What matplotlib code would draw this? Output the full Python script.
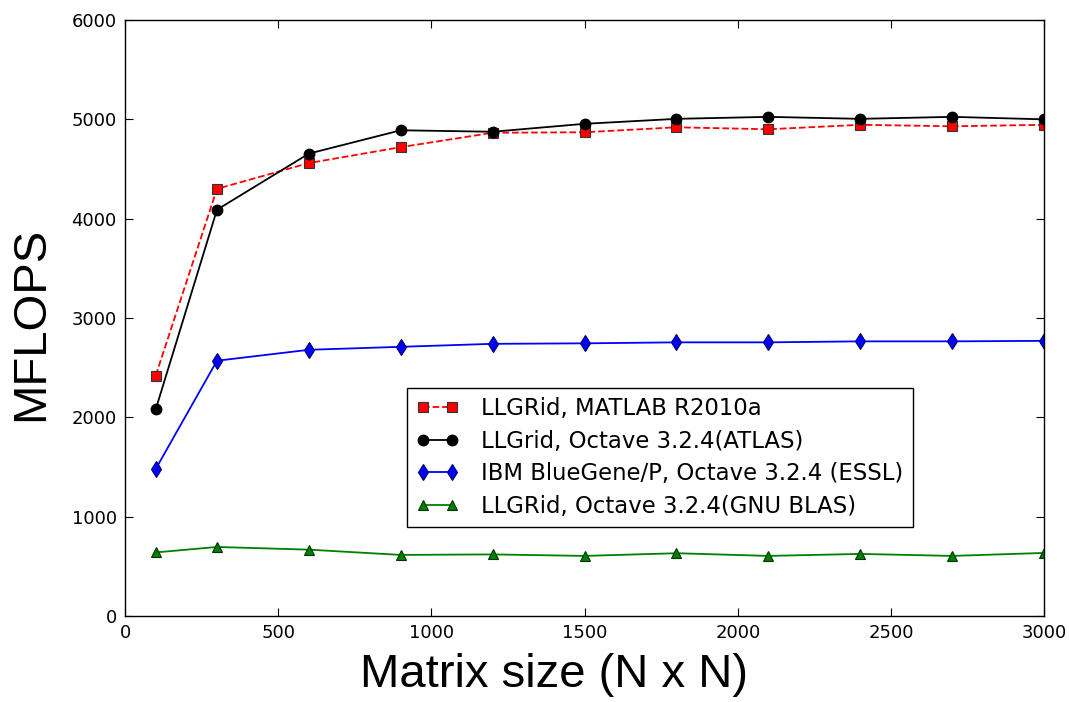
import matplotlib
matplotlib.use("Agg")
import matplotlib.pyplot as plt

# Matrix sizes (N for an N x N matrix)
matrix_size = [100, 300, 600, 900, 1200, 1500, 1800, 2100, 2400, 2700, 3000]

# Measured MFLOPS for each configuration
matlab_llgrid = [2420, 4300, 4560, 4720, 4865, 4870, 4920, 4900, 4945, 4930, 4945]
octave_atlas = [2080, 4090, 4655, 4890, 4875, 4955, 5005, 5025, 5005, 5025, 5000]
bluegene_essl = [1480, 2570, 2680, 2710, 2740, 2745, 2755, 2755, 2765, 2765, 2770]
octave_gnublas = [640, 695, 668, 615, 620, 605, 632, 605, 625, 605, 635]

labels = [
    "LLGRid, MATLAB R2010a",
    "LLGrid, Octave 3.2.4(ATLAS)",
    "IBM BlueGene/P, Octave 3.2.4 (ESSL)",
    "LLGRid, Octave 3.2.4(GNU BLAS)",
]

x_ticks = [0, 500, 1000, 1500, 2000, 2500, 3000]
y_ticks = [0, 1000, 2000, 3000, 4000, 5000, 6000]

plt.rcParams["font.family"] = "DejaVu Sans"

fig = plt.figure(figsize=(10.69, 7.02), dpi=100, facecolor="white")
ax = fig.add_axes([0.117, 0.1225, 0.8597, 0.849])

ax.plot(matrix_size, matlab_llgrid, color="red", linestyle="--", linewidth=1.3,
        marker="s", markersize=7.5, markerfacecolor="red",
        markeredgecolor="#333333", markeredgewidth=0.8, label=labels[0])
ax.plot(matrix_size, octave_atlas, color="black", linestyle="-", linewidth=1.3,
        marker="o", markersize=7.5, markerfacecolor="black",
        markeredgecolor="black", label=labels[1])
ax.plot(matrix_size, bluegene_essl, color="blue", linestyle="-", linewidth=1.3,
        marker="d", markersize=8, markerfacecolor="blue",
        markeredgecolor="#000066", markeredgewidth=0.8, label=labels[2])
ax.plot(matrix_size, octave_gnublas, color="green", linestyle="-", linewidth=1.3,
        marker="^", markersize=7.5, markerfacecolor="green",
        markeredgecolor="#003300", markeredgewidth=0.8, label=labels[3])

ax.set_xlim(0, 3000)
ax.set_ylim(0, 6000)
ax.set_xticks(x_ticks)
ax.set_yticks(y_ticks)
ax.tick_params(direction="in", top=True, right=True, length=6, width=0.8,
               labelsize=13, pad=6)
for spine in ax.spines.values():
    spine.set_linewidth(1.0)

ax.set_xlabel("Matrix size (N x N)", fontsize=34, family="Liberation Sans")
ax.set_ylabel("MFLOPS", fontsize=34, family="Liberation Sans")
ax.xaxis.set_label_coords(0.467, -0.062)
ax.yaxis.set_label_coords(-0.078, 0.49)

leg = ax.legend(loc="upper left", bbox_to_anchor=(0.307, 0.383),
                borderaxespad=0, fontsize=16.4, numpoints=2, handlelength=1.85,
                handletextpad=1.0, labelspacing=0.43, fancybox=False,
                framealpha=1, edgecolor="black", borderpad=0.4)
leg.get_frame().set_linewidth(1.0)

fig.savefig("out.png", dpi=100, facecolor="white")
